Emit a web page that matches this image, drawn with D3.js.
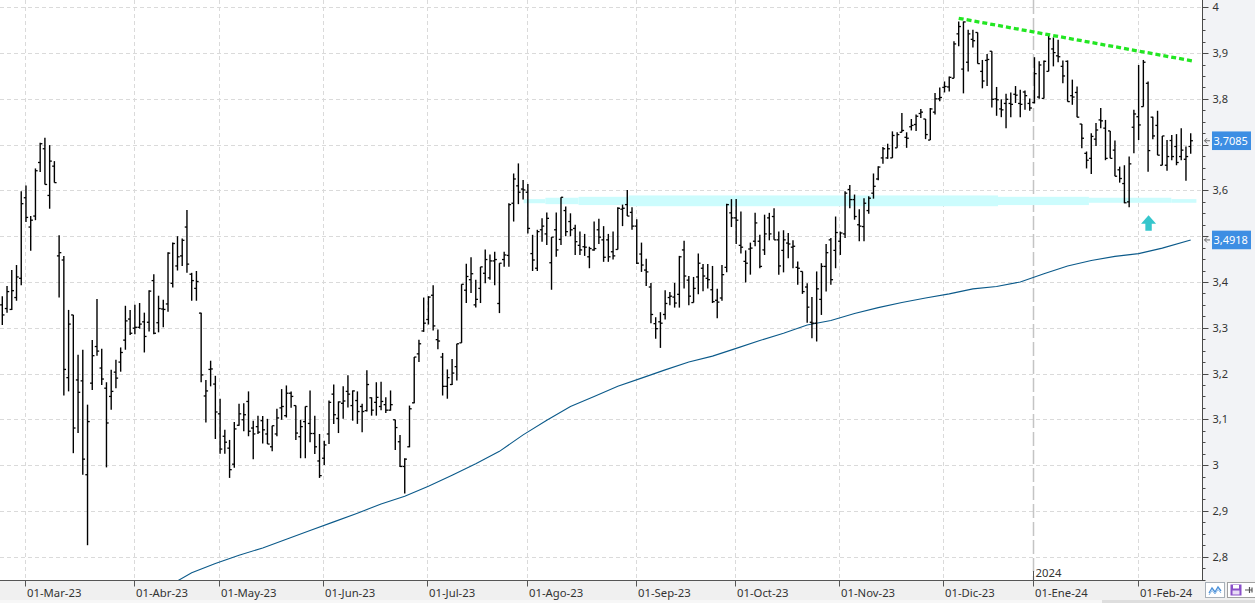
<!DOCTYPE html>
<html><head><meta charset="utf-8">
<script src="https://cdn.jsdelivr.net/npm/d3@7"></script>
<style>body{margin:0;background:#fff;overflow:hidden}svg{display:block;font-family:"Noto Sans",sans-serif}</style>
</head><body><svg id="c" width="1255" height="603"></svg>
<script>
// ---------- data ----------
const startDate = "2023-02-22", endDate = "2024-02-16";
const holidays = ["2023-04-07","2023-04-10","2023-05-01","2023-12-25","2023-12-26","2024-01-01"];
const monthLabels = ["01-Mar-23","01-Abr-23","01-May-23","01-Jun-23","01-Jul-23","01-Ago-23","01-Sep-23","01-Oct-23","01-Nov-23","01-Dic-23","01-Ene-24","01-Feb-24"];
const yTicks = [2.8,2.9,3.0,3.1,3.2,3.3,3.4,3.5,3.6,3.7,3.8,3.9,4.0];
const open = [3.350,3.342,3.340,3.366,3.408,3.584,3.520,3.544,3.661,3.691,3.589,3.653,3.457,3.448,3.191,3.328,3.186,3.184,2.979,3.179,
3.259,3.212,3.168,3.150,3.203,3.225,3.273,3.319,3.299,3.301,3.313,3.312,3.403,3.311,3.341,3.352,3.397,3.435,3.457,3.520,
3.417,3.386,3.332,3.151,3.209,3.177,3.112,3.063,3.037,3.002,3.087,3.099,3.139,3.081,3.084,3.097,3.068,3.040,3.068,3.125,
3.108,3.157,3.130,3.062,3.095,3.091,3.069,3.009,3.015,3.068,3.155,3.102,3.135,3.161,3.130,3.141,3.128,3.119,3.147,3.137,
3.128,3.132,3.120,3.099,3.051,2.997,3.040,3.136,3.243,3.293,3.318,3.371,3.274,3.236,3.172,3.176,3.215,3.267,3.382,3.405,
3.350,3.386,3.419,3.409,3.446,3.353,3.449,3.458,3.572,3.610,3.603,3.596,3.462,3.430,3.514,3.505,3.442,3.514,3.493,3.556,
3.532,3.517,3.480,3.477,3.455,3.470,3.514,3.492,3.492,3.466,3.471,3.559,3.569,3.552,3.522,3.461,3.426,3.389,3.309,3.313,
3.329,3.366,3.367,3.373,3.470,3.404,3.355,3.411,3.430,3.408,3.383,3.360,3.365,3.432,3.551,3.540,3.480,3.445,3.472,3.489,
3.489,3.470,3.540,3.543,3.492,3.469,3.485,3.476,3.432,3.423,3.389,3.312,3.310,3.362,3.434,3.492,3.469,3.489,3.505,3.602,
3.580,3.525,3.521,3.556,3.594,3.625,3.671,3.671,3.671,3.693,3.727,3.716,3.739,3.744,3.768,3.756,3.710,3.771,3.800,3.825,
3.826,3.845,3.942,3.865,3.880,3.930,3.945,3.860,3.884,3.904,3.800,3.778,3.790,3.790,3.810,3.790,3.815,3.790,3.792,3.804,
3.801,3.860,3.909,3.894,3.871,3.882,3.807,3.814,3.745,3.681,3.670,3.712,3.754,3.736,3.730,3.688,3.645,3.615,3.575,3.738,
3.761,3.783,3.834,3.760,3.742,3.655,3.655,3.709,3.696,3.674,3.668,3.696];
const high = [3.369,3.391,3.426,3.437,3.598,3.611,3.544,3.648,3.704,3.715,3.699,3.664,3.502,3.457,3.339,3.328,3.241,3.252,3.132,3.273,
3.363,3.254,3.181,3.208,3.230,3.257,3.348,3.339,3.350,3.354,3.333,3.382,3.417,3.370,3.361,3.465,3.486,3.500,3.495,3.557,
3.420,3.424,3.333,3.186,3.228,3.195,3.145,3.077,3.055,3.094,3.134,3.135,3.161,3.097,3.108,3.107,3.101,3.086,3.123,3.166,
3.174,3.161,3.130,3.099,3.128,3.163,3.108,3.068,3.053,3.141,3.176,3.139,3.172,3.196,3.163,3.161,3.134,3.207,3.148,3.181,
3.182,3.148,3.163,3.099,3.066,3.015,3.130,3.236,3.274,3.366,3.369,3.393,3.296,3.245,3.209,3.232,3.265,3.395,3.440,3.454,
3.405,3.433,3.471,3.460,3.466,3.441,3.466,3.572,3.637,3.659,3.623,3.614,3.503,3.514,3.539,3.552,3.498,3.552,3.585,3.565,
3.550,3.525,3.510,3.505,3.477,3.532,3.538,3.522,3.505,3.510,3.563,3.569,3.601,3.563,3.537,3.486,3.451,3.398,3.323,3.334,
3.382,3.378,3.398,3.457,3.490,3.413,3.411,3.462,3.439,3.439,3.435,3.385,3.437,3.571,3.581,3.581,3.554,3.469,3.486,3.551,
3.503,3.547,3.551,3.561,3.510,3.513,3.507,3.491,3.445,3.423,3.397,3.367,3.423,3.441,3.483,3.496,3.543,3.510,3.598,3.612,
3.591,3.559,3.583,3.587,3.637,3.653,3.695,3.702,3.729,3.727,3.769,3.727,3.756,3.766,3.778,3.756,3.780,3.813,3.825,3.838,
3.849,3.926,3.969,3.969,3.951,3.951,3.945,3.885,3.898,3.904,3.826,3.799,3.811,3.814,3.828,3.820,3.818,3.801,3.891,3.882,
3.884,3.938,3.934,3.929,3.884,3.884,3.842,3.827,3.745,3.685,3.725,3.747,3.780,3.754,3.730,3.709,3.652,3.655,3.674,3.776,
3.874,3.885,3.838,3.761,3.774,3.719,3.710,3.721,3.723,3.736,3.696,3.725];
const low = [3.306,3.333,3.339,3.359,3.393,3.531,3.468,3.535,3.640,3.613,3.560,3.617,3.366,3.152,3.161,3.026,3.070,2.979,2.825,3.164,
3.239,3.175,2.995,3.121,3.168,3.204,3.252,3.284,3.286,3.298,3.246,3.292,3.286,3.290,3.301,3.335,3.388,3.425,3.435,3.420,
3.359,3.359,3.181,3.093,3.172,3.057,3.025,3.025,2.972,2.994,3.086,3.074,3.063,3.013,3.068,3.047,3.046,3.030,3.063,3.099,
3.104,3.125,3.055,3.015,3.015,3.050,3.024,2.972,3.000,3.046,3.090,3.070,3.101,3.126,3.097,3.090,3.072,3.117,3.108,3.108,
3.120,3.114,3.119,3.033,2.996,2.938,3.039,3.135,3.225,3.291,3.307,3.294,3.253,3.152,3.145,3.175,3.185,3.267,3.354,3.376,
3.344,3.354,3.397,3.405,3.393,3.332,3.433,3.433,3.532,3.570,3.580,3.506,3.424,3.424,3.488,3.481,3.383,3.455,3.481,3.500,
3.500,3.459,3.459,3.457,3.430,3.468,3.483,3.444,3.444,3.449,3.471,3.522,3.544,3.514,3.439,3.422,3.391,3.310,3.276,3.256,
3.318,3.349,3.344,3.344,3.386,3.349,3.355,3.373,3.380,3.386,3.354,3.321,3.359,3.421,3.520,3.483,3.462,3.399,3.416,3.478,
3.430,3.459,3.491,3.492,3.416,3.421,3.452,3.430,3.394,3.374,3.311,3.277,3.270,3.328,3.379,3.394,3.430,3.459,3.496,3.561,
3.536,3.489,3.489,3.549,3.582,3.622,3.658,3.669,3.671,3.693,3.727,3.693,3.731,3.730,3.758,3.712,3.710,3.766,3.795,3.814,
3.816,3.845,3.915,3.812,3.860,3.912,3.877,3.823,3.828,3.781,3.763,3.760,3.736,3.760,3.791,3.760,3.776,3.774,3.790,3.800,
3.801,3.860,3.871,3.880,3.834,3.794,3.787,3.760,3.692,3.648,3.636,3.697,3.736,3.666,3.670,3.631,3.617,3.572,3.563,3.681,
3.710,3.783,3.641,3.712,3.677,3.655,3.643,3.666,3.655,3.666,3.621,3.680];
const close = [3.328,3.379,3.381,3.411,3.571,3.541,3.535,3.643,3.702,3.613,3.664,3.617,3.464,3.209,3.308,3.081,3.159,3.013,3.095,3.239,
3.249,3.188,3.092,3.161,3.190,3.246,3.315,3.288,3.301,3.308,3.281,3.380,3.288,3.342,3.340,3.463,3.484,3.455,3.491,3.439,
3.403,3.401,3.197,3.162,3.210,3.116,3.035,3.050,2.990,3.079,3.112,3.110,3.074,3.068,3.072,3.077,3.046,3.086,3.103,3.128,
3.157,3.150,3.070,3.084,3.128,3.069,3.040,2.977,3.044,3.137,3.110,3.138,3.140,3.155,3.162,3.117,3.117,3.176,3.120,3.148,
3.139,3.120,3.132,3.082,2.997,3.013,3.123,3.236,3.265,3.310,3.367,3.304,3.271,3.172,3.191,3.201,3.265,3.395,3.412,3.418,
3.362,3.433,3.449,3.446,3.449,3.441,3.459,3.569,3.625,3.596,3.601,3.517,3.448,3.510,3.522,3.539,3.498,3.470,3.585,3.510,
3.514,3.488,3.470,3.476,3.473,3.473,3.498,3.454,3.455,3.457,3.561,3.561,3.544,3.522,3.441,3.437,3.422,3.329,3.298,3.310,
3.353,3.369,3.354,3.455,3.413,3.369,3.386,3.441,3.413,3.405,3.357,3.356,3.416,3.569,3.540,3.535,3.476,3.441,3.474,3.529,
3.434,3.505,3.505,3.492,3.435,3.492,3.483,3.478,3.430,3.379,3.345,3.310,3.385,3.434,3.464,3.405,3.508,3.507,3.594,3.580,
3.543,3.522,3.572,3.583,3.609,3.651,3.691,3.691,3.720,3.722,3.731,3.714,3.742,3.762,3.771,3.722,3.778,3.800,3.803,3.827,
3.847,3.920,3.958,3.968,3.942,3.927,3.877,3.839,3.886,3.799,3.798,3.776,3.799,3.788,3.808,3.788,3.807,3.780,3.855,3.874,
3.882,3.931,3.901,3.892,3.850,3.794,3.804,3.760,3.714,3.666,3.718,3.732,3.752,3.670,3.670,3.631,3.626,3.573,3.658,3.767,
3.743,3.880,3.687,3.719,3.677,3.719,3.674,3.674,3.661,3.688,3.674,3.7085];
// moving average, read at every fifth session
const maIndex = [35,40,45,50,55,60,65,70,75,80,85,90,95,100,105,110,115,120,125,130,135,140,145,150,155,160,165,170,175,180,185,190,195,200,205,210,215,220,225,230,235,240,245,251];
const maValue = [2.735,2.765,2.785,2.803,2.819,2.838,2.857,2.876,2.895,2.915,2.932,2.954,2.978,3.003,3.030,3.066,3.098,3.128,3.150,3.172,3.190,3.208,3.225,3.238,3.255,3.272,3.288,3.306,3.316,3.331,3.344,3.355,3.365,3.374,3.385,3.390,3.400,3.418,3.435,3.447,3.456,3.462,3.474,3.4918];
const lastPrice = 3.7085, maLast = 3.4918;
const trendFrom = [202, 3.976], trendTo = [251.3, 3.883];
// support band segments: [from session, to session, upper, lower]
const bandSegs = [[110.1,114.7,3.581,3.572],[114.7,121.7,3.584,3.570],[121.7,132.3,3.586,3.568],[132.3,210.3,3.589,3.5655],[210.3,229.5,3.586,3.568],[229.5,246.9,3.584,3.573],[246.9,252.2,3.581,3.573]];
const arrowAt = [242.1, 3.546, 3.527, 3.512]; // session, tip, head base, stem bottom

// ---------- build dates ----------
const fmt = d3.timeFormat("%Y-%m-%d");
const dates = d3.timeDay.range(new Date(startDate+"T00:00:00"), d3.timeDay.offset(new Date(endDate+"T00:00:00"),1))
  .filter(d => d.getDay()!==0 && d.getDay()!==6 && !holidays.includes(fmt(d)));
const n = dates.length;

// ---------- layout ----------
const W=1255, H=603, plotR=1202, plotB=580;
const svg = d3.select("#c");
const x = d3.scaleLinear().domain([0, n-1]).range([2.3, 1190.7]);
const y = d3.scaleLinear().domain([2.749, 4.0]).range([580, 7.3]);

// backgrounds
svg.append("rect").attr("x",0).attr("y",0).attr("width",W).attr("height",H).attr("fill","#ffffff");
svg.append("rect").attr("x",plotR).attr("y",0).attr("width",W-plotR).attr("height",plotB).attr("fill","#f2f3f6");
svg.append("rect").attr("x",0).attr("y",plotB).attr("width",W).attr("height",H-plotB).attr("fill","#f0f0f0");
svg.append("rect").attr("x",0).attr("y",600).attr("width",1102).attr("height",3).attr("fill","#f7f7f7");
svg.append("rect").attr("x",1102).attr("y",600).attr("width",W-1102).attr("height",3).attr("fill","#dedede");

const clip = svg.append("defs").append("clipPath").attr("id","pc");
clip.append("rect").attr("x",0).attr("y",0).attr("width",plotR).attr("height",plotB);
const g = svg.append("g").attr("clip-path","url(#pc)");

// month positions
const monthIdx = [];
let lastM = null;
dates.forEach((d,i)=>{ const k=d.getFullYear()*12+d.getMonth(); if(k!==lastM){ if(lastM!==null) monthIdx.push(i); lastM=k; } });

// grid
g.selectAll(".hg").data(yTicks).enter().append("line")
  .attr("x1",0).attr("x2",plotR).attr("y1",d=>Math.round(y(d))+0.5).attr("y2",d=>Math.round(y(d))+0.5)
  .attr("stroke","#dadada").attr("stroke-dasharray","4,3");
const yearIdx = monthIdx[10];
g.selectAll(".vg").data(monthIdx.filter(i=>i!==yearIdx)).enter().append("line")
  .attr("x1",i=>Math.round(x(i)-1)+0.5).attr("x2",i=>Math.round(x(i)-1)+0.5).attr("y1",0).attr("y2",plotB)
  .attr("stroke","#dadada").attr("stroke-dasharray","4,3");
g.append("line").attr("x1",Math.round(x(yearIdx)-1)+0.5).attr("x2",Math.round(x(yearIdx)-1)+0.5).attr("y1",0).attr("y2",plotB)
  .attr("stroke","#c4c4c4").attr("stroke-width",1.5).attr("stroke-dasharray","14,4");

// support band
g.selectAll(".band").data(bandSegs).enter().append("rect")
  .attr("x",d=>x(d[0])).attr("width",d=>x(d[1])-x(d[0]))
  .attr("y",d=>y(d[2])).attr("height",d=>y(d[3])-y(d[2]))
  .attr("fill","#ccfcfd");

// moving average
g.append("path").datum(maIndex.map((i,k)=>[i,maValue[k]]))
  .attr("d", d3.line().x(d=>x(d[0])).y(d=>y(d[1])))
  .attr("fill","none").attr("stroke","#0b5a8a").attr("stroke-width",1.1);

// OHLC bars
const bars = g.append("g").attr("stroke","#000");
d3.range(n).forEach(i=>{
  const cx = x(i);
  bars.append("line").attr("x1",cx).attr("x2",cx).attr("y1",y(high[i])).attr("y2",y(low[i])).attr("stroke-width",1.4);
  bars.append("line").attr("x1",cx-2.2).attr("x2",cx).attr("y1",y(open[i])).attr("y2",y(open[i])).attr("stroke-width",1.3);
  bars.append("line").attr("x1",cx).attr("x2",cx+2.2).attr("y1",y(close[i])).attr("y2",y(close[i])).attr("stroke-width",1.3);
});

// trend line
g.append("line").attr("x1",x(trendFrom[0])).attr("y1",y(trendFrom[1])).attr("x2",x(trendTo[0])).attr("y2",y(trendTo[1]))
  .attr("stroke","#22e622").attr("stroke-width",3.3).attr("stroke-dasharray","5,3");

// arrow
const ax = x(arrowAt[0]);
g.append("path").attr("d",`M${ax},${y(arrowAt[1])} L${ax+7.5},${y(arrowAt[2])} L${ax+3.2},${y(arrowAt[2])} L${ax+3.2},${y(arrowAt[3])} L${ax-3.2},${y(arrowAt[3])} L${ax-3.2},${y(arrowAt[2])} L${ax-7.5},${y(arrowAt[2])} Z`)
  .attr("fill","#36c6cc");

// right axis
svg.append("line").attr("x1",plotR+0.5).attr("x2",plotR+0.5).attr("y1",0).attr("y2",plotB).attr("stroke","#4a4a4a");
const minor = d3.range(0, 52).map(k=>2.75+k*0.025).filter(v=>y(v)>=0 && y(v)<=plotB);
svg.selectAll(".mt").data(minor).enter().append("line")
  .attr("x1",plotR).attr("x2",d=>plotR+ (Math.abs(d*10-Math.round(d*10))<1e-6?6.5:3.5))
  .attr("y1",d=>Math.round(y(d))+0.5).attr("y2",d=>Math.round(y(d))+0.5).attr("stroke","#4a4a4a");
const yFmt = v => (Math.round(v*10)%10===0 ? String(Math.round(v)) : v.toFixed(1).replace(".",","));
// tick labels hidden behind the price boxes in the original are left out
const boxes = [lastPrice, maLast];
svg.selectAll(".yl").data(yTicks.filter(v=>boxes.every(b=>Math.abs(y(v)-y(b))>12))).enter().append("text")
  .attr("x",1212.5).attr("y",d=>y(d)+4).attr("font-size",11).attr("fill","#333").text(yFmt);

// price boxes
boxes.forEach(v=>{
  const cy = y(v);
  svg.append("rect").attr("x",1212).attr("y",cy-9.3).attr("width",39).attr("height",18.6).attr("fill","#3d8ee3");
  svg.append("text").attr("x",1213.5).attr("y",cy+4).attr("font-size",11).attr("fill","#fff")
    .text(v.toFixed(4).replace(".",","));
  svg.append("path").attr("d",`M1210,${cy} L1204.5,${cy} M1207,${cy-2.5} L1204.5,${cy} L1207,${cy+2.5}`)
    .attr("fill","none").attr("stroke","#666").attr("stroke-width",1);
});

// bottom axis
svg.append("line").attr("x1",0).attr("x2",plotR).attr("y1",plotB+0.5).attr("y2",plotB+0.5).attr("stroke","#555");
monthIdx.forEach((i,k)=>{
  const tx = Math.round(x(i)-1)+0.5;
  svg.append("line").attr("x1",tx).attr("x2",tx).attr("y1",plotB).attr("y2",plotB+6.5).attr("stroke","#555");
  svg.append("text").attr("x",tx+1.5).attr("y",597).attr("font-size",11.3).attr("fill","#333").text(monthLabels[k]);
});
{
  const tx = Math.round(x(yearIdx)-1)+0.5;
  svg.append("line").attr("x1",tx).attr("x2",tx).attr("y1",571).attr("y2",plotB).attr("stroke","#555");
  svg.append("text").attr("x",tx+2).attr("y",577).attr("font-size",11.3).attr("fill","#333").text("2024");
}

// toolbar icons
svg.append("rect").attr("x",1205.5).attr("y",582.5).attr("width",19).attr("height",15).attr("fill","#fff").attr("stroke","#a8b0b8");
svg.append("path").attr("d","M1209,593 L1212,588 L1215,592 L1218,587 L1221,591").attr("fill","none").attr("stroke","#4a90d9").attr("stroke-width",1.3);
svg.append("path").attr("d","M1209,595 L1212,590.5 L1215,594 L1218,589.5 L1221,593").attr("fill","none").attr("stroke","#8ab8e6").attr("stroke-width",1);
svg.append("rect").attr("x",1227.5).attr("y",582.5).attr("width",28).attr("height",15).attr("fill","#fff").attr("stroke","#a0a0a0");
svg.append("rect").attr("x",1230.5).attr("y",584.5).attr("width",11).attr("height",11).attr("fill","#8a4fc8");
svg.append("rect").attr("x",1233).attr("y",585).attr("width",6).attr("height",3.5).attr("fill","#fff");
svg.append("rect").attr("x",1232.5).attr("y",590.5).attr("width",7).attr("height",4).attr("fill","#e8dcf5");
svg.append("path").attr("d","M1245,590 L1252,590 M1249.5,587 L1249.5,593 M1252,587.5 L1252,592.5").attr("fill","none").attr("stroke","#555").attr("stroke-width",1.2);
</script></body></html>
